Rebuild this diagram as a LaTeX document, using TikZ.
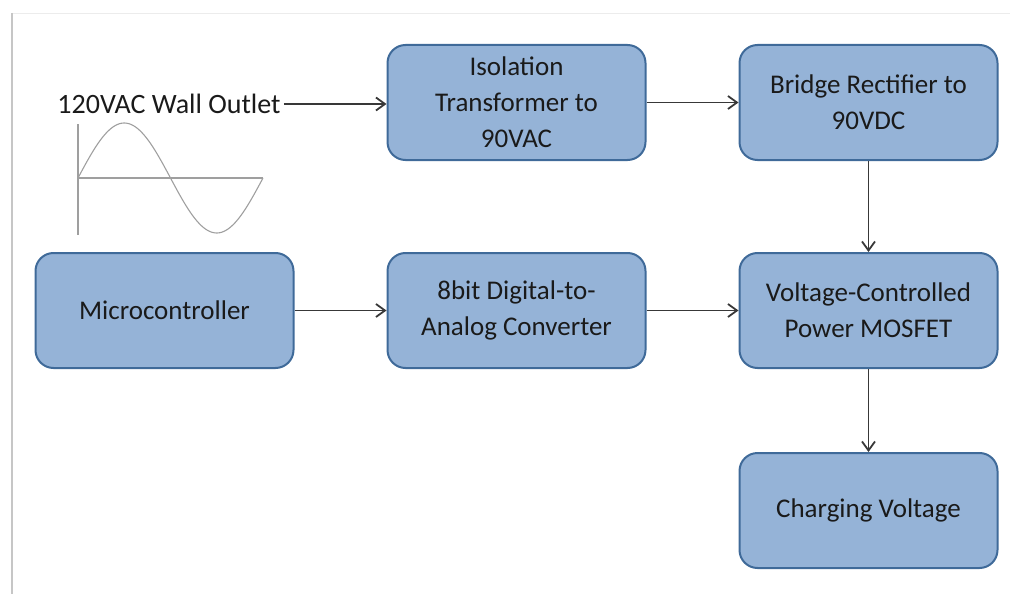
\documentclass[tikz,border=0pt]{standalone}
\usepackage{fontspec}
\setmainfont{Carlito}
\usetikzlibrary{arrows.meta}
\definecolor{boxfill}{HTML}{95B3D7}
\definecolor{boxline}{HTML}{3F6A99}
\definecolor{arrowc}{HTML}{383838}
\definecolor{txt}{HTML}{1A1A1A}
\tikzset{
  block/.style={draw=boxline, fill=boxfill, line width=2pt, rounded corners=18pt,
    minimum width=258pt, minimum height=115pt, align=center, text=txt,
    font=\fontsize{27}{36}\selectfont, inner sep=0pt},
  conn/.style={draw=arrowc, line width=1.8pt, -{Straight Barb[length=9pt,width=13pt,line width=1.8pt]}},
  wave/.style={draw=gray!75, line width=1.1pt}
}
\begin{document}
\begin{tikzpicture}[x=1pt,y=-1pt]
\useasboundingbox (0,0) rectangle (1010,594);
% frame
\draw[line width=0.8pt, gray!15] (12,13) -- (1010,13);
\draw[line width=2.5pt, gray!45] (12,13) -- (12,594);
% blocks
\node[block] (iso) at (516.5,102.5) {Isolation\\Transformer to\\90VAC};
\node[block] (bridge) at (868.5,102.5) {Bridge Rectifier to\\90VDC};
\node[block] (micro) at (164.5,310.5) {Microcontroller};
\node[block] (dac) at (516.5,310.5) {8bit Digital-to-\\Analog Converter};
\node[block] (mosfet) at (868.5,310.5) {Voltage-Controlled\\Power MOSFET};
\node[block] (charge) at (868.5,510.5) {Charging Voltage};
% wall outlet label
\node[text=txt, font=\fontsize{28}{36}\selectfont, inner xsep=3pt, inner ysep=0pt] (wall) at (169,104) {120VAC Wall Outlet};
% sine wave
\coordinate (o) at (78,178);
\draw[wave] (78,124) -- (78,235);
\draw[wave] (o) -- (263,178);
\draw[wave, domain=0:185, samples=100] plot (78+\x, {178-55*sin(\x*1.945946)});
% connectors
\draw[conn] (wall.east) -- (wall.east -| iso.west);
\draw[conn] (iso.east) -- (bridge.west);
\draw[conn] (bridge.south) -- (mosfet.north);
\draw[conn] (micro.east) -- (dac.west);
\draw[conn] (dac.east) -- (mosfet.west);
\draw[conn] (mosfet.south) -- (charge.north);
\end{tikzpicture}
\end{document}
